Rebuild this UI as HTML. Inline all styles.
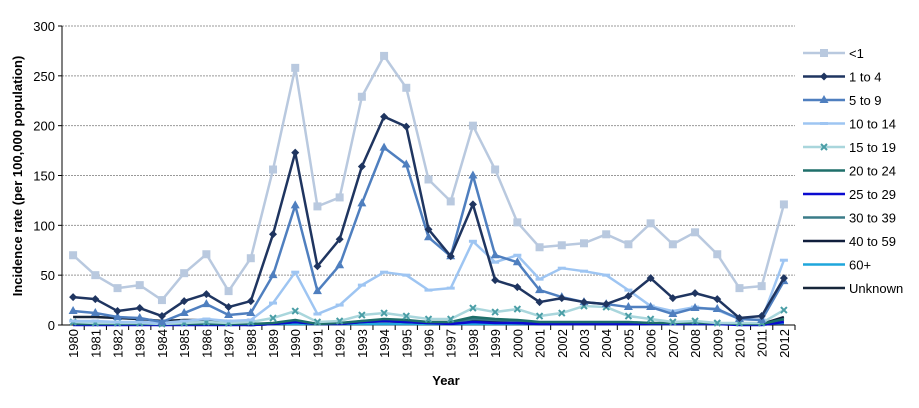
<!DOCTYPE html>
<html><head><meta charset="utf-8"><style>
body{margin:0;background:#fff;font-family:"Liberation Sans",Arial,sans-serif}
svg text{font-family:"Liberation Sans",Arial,sans-serif}
</style></head><body>
<svg id="chart" width="919" height="403" xmlns="http://www.w3.org/2000/svg"></svg>
<script>
const years=[1980,1981,1982,1983,1984,1985,1986,1987,1988,1989,1990,1991,1992,1993,1994,1995,1996,1997,1998,1999,2000,2001,2002,2003,2004,2005,2006,2007,2008,2009,2010,2011,2012];
const yTicks=[0,50,100,150,200,250,300];
const sLt1=[70,50,37,40,25,52,71,34,67,156,258,119,128,229,270,238,146,124,200,156,103,78,80,82,91,81,102,81,93,71,37,39,121];
const s1to4=[28,26,14,17,9,24,31,18,24,91,173,59,86,159,209,199,96,69,121,45,38,23,27,23,21,29,47,27,32,26,7,9,47];
const s5to9=[14,12,8,7,3,12,21,10,12,50,120,34,60,122,178,161,88,69,150,70,63,35,28,23,21,18,18,11,17,16,6,5,44];
const s10to14=[4,4,3,3,2,4,6,4,5,22,53,11,20,40,53,50,35,37,84,63,70,46,57,54,50,35,19,14,18,15,6,5,65];
const s15to19=[3,2,2,2,1,2,3,2,3,7,14,3,4,10,12,9,6,6,17,13,16,9,12,19,18,9,6,3,4,2,2,2,15];
const s20to24=[1,1,1,1,1,1,1,1,1,2,5,1,2,4,6,5,3,3,8,6,5,3,3,3,3,3,2,2,2,2,1,1,6];
const s25to29=[0,0,0,0,0,0,0,0,0,1,3,1,1,3,4,3,2,1,3,2,2,1,1,1,1,1,1,1,1,1,0,0,3];
const s30to39=[1,1,1,1,0,1,1,1,0,1,4,1,1,4,5,5,2,2,6,5,4,2,2,2,2,2,1,1,1,1,1,1,5];
const s40to59=[1,1,1,1,0,1,1,1,0,1,3,1,1,3,4,3,2,2,4,3,2,1,1,1,1,1,1,1,1,1,1,1,8];
const s60p=[1,1,1,1,1,1,1,1,1,1,1,1,1,1,1,1,1,1,1,1,1,1,1,1,1,1,1,1,1,1,1,1,2];
const sUnk=[8,8,7,6,4,5,5,3,1,1,1,1,1,1,1,1,1,1,1,1,1,1,1,1,1,1,1,1,1,1,1,1,1];
const seriesNames=["<1","1 to 4","5 to 9","10 to 14","15 to 19","20 to 24","25 to 29","30 to 39","40 to 59","60+","Unknown"];
const seriesData=[sLt1,s1to4,s5to9,s10to14,s15to19,s20to24,s25to29,s30to39,s40to59,s60p,sUnk];
const colors=["#b9c9df","#1f3560","#4f7fbf","#9ec5f2","#a9d6dc","#1e6f6a","#0a0ad0","#3a7c88","#101e3c","#1ea6dc","#17263a"];
const markers=["square","diamond","triangle","dash","x","","","","","",""];
const NS="http://www.w3.org/2000/svg",svg=document.getElementById('chart');
const L=62,R=795,T=26,B=325,ymax=300;
const cw=(R-L)/years.length;
const x=i=>L+cw*(i+0.5), y=v=>B-(v/ymax)*(B-T);
function el(t,a,p){const e=document.createElementNS(NS,t);for(const k in a)e.setAttribute(k,a[k]);(p||svg).appendChild(e);return e;}
yTicks.forEach(v=>{
 if(v>0){const g=el('line',{x1:L,x2:R,y1:y(v),y2:y(v),stroke:'#999','stroke-dasharray':'2,1','stroke-width':1});
 
 }
 const t=el('text',{x:L-7,y:y(v)+5,'text-anchor':'end','font-size':13,fill:'#000'});t.textContent=v;
 
 
 el('line',{x1:L-4,x2:L,y1:y(v),y2:y(v),stroke:'#000'});
});
let ax=el('line',{x1:L,x2:L,y1:T,y2:B,stroke:'#000'});


ax=el('line',{x1:L,x2:R,y1:B,y2:B,stroke:'#000'});


years.forEach((yr,i)=>{
 el('line',{x1:L+cw*(i+1),x2:L+cw*(i+1),y1:B,y2:B+5,stroke:'#000'});
 const t=el('text',{transform:`translate(${x(i)+5},${B+4}) rotate(-90)`,'text-anchor':'end','font-size':13,fill:'#000'});t.textContent=yr;
 
 
});
function marker(type,cx,cy,c,g){
 if(type==='square')el('rect',{x:cx-4,y:cy-4,width:8,height:8,fill:c},g);
 else if(type==='diamond')el('path',{d:`M${cx} ${cy-4}L${cx+4} ${cy}L${cx} ${cy+4}L${cx-4} ${cy}Z`,fill:c},g);
 else if(type==='triangle')el('path',{d:`M${cx} ${cy-5}L${cx+4.5} ${cy+3}L${cx-4.5} ${cy+3}Z`,fill:c},g);
 else if(type==='dash')el('rect',{x:cx-4,y:cy-1.5,width:8,height:3,fill:c},g);
 else if(type==='x')el('path',{d:`M${cx-3} ${cy-3}L${cx+3} ${cy+3}M${cx+3} ${cy-3}L${cx-3} ${cy+3}`,stroke:'#4a9ea6','stroke-width':2},g);
}
for(let s=seriesData.length-1;s>=0;s--){
 const g=el('g',{});
 
 
 const d=seriesData[s].map((v,i)=>(i?'L':'M')+x(i)+' '+y(v)).join('');
 el('path',{d,fill:'none',stroke:colors[s],'stroke-width':2.5,'stroke-linejoin':'round'},g);
 if(markers[s])seriesData[s].forEach((v,i)=>marker(markers[s],x(i),y(v),colors[s],g));
}
seriesNames.forEach((n,i)=>{
 const g=el('g',{});
 
 
 const ly=53+i*23.5;
 el('line',{x1:803,x2:845,y1:ly,y2:ly,stroke:colors[i],'stroke-width':2.5},g);
 if(markers[i])marker(markers[i],824,ly,colors[i],g);
 const t=el('text',{x:849,y:ly+5,'font-size':13,fill:'#000'},g);t.textContent=n;
});
let t=el('text',{transform:'translate(22,176) rotate(-90)','text-anchor':'middle','font-size':13,'font-weight':'bold'});
t.textContent='Incidence rate (per 100,000 population)';


t=el('text',{x:446,y:385,'text-anchor':'middle','font-size':13,'font-weight':'bold'});
t.textContent='Year';


</script>
</body></html>
